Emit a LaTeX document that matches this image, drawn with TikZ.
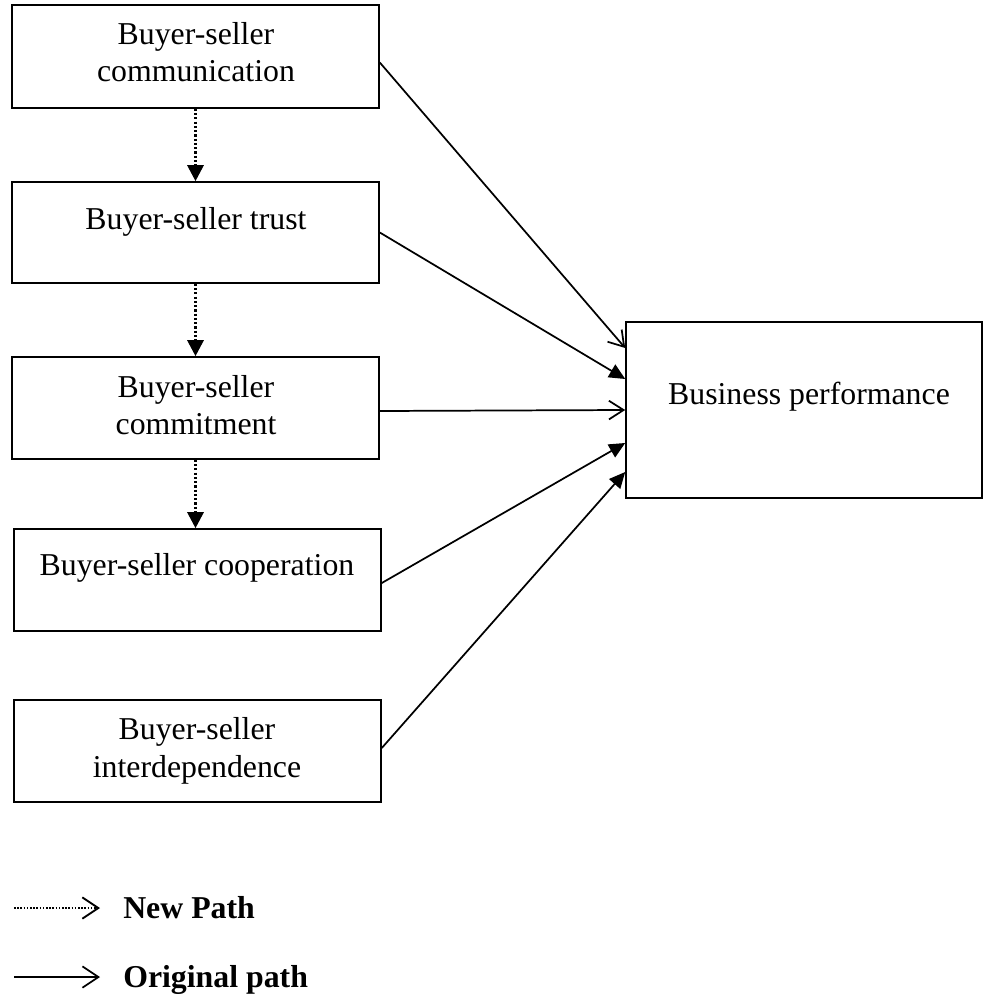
\documentclass[tikz,border=0pt]{standalone}
\usepackage{fontspec}
\setmainfont{Liberation Serif}
\usetikzlibrary{arrows.meta,fit,calc}
\begin{document}
\begin{tikzpicture}[x=0.75pt,y=-0.75pt,
  box/.style={draw, line width=1.2pt, inner sep=0pt},
  txt/.style={font=\fontsize{23.85}{27.75}\selectfont, inner sep=0pt, anchor=base},
  legtxt/.style={font=\fontsize{23.85}{27.75}\selectfont\bfseries, inner sep=0pt, anchor=base west},
  origline/.style={line width=1.3pt, -{Straight Barb[length=11pt,width=14pt]}},
  fillline/.style={line width=1.3pt, -{Triangle[length=12pt,width=11pt]}},
  newline/.style={line width=2.2pt, dash pattern=on 1.6pt off 1.6pt, -{Triangle[length=12pt,width=12pt]}},
]
\useasboundingbox (0,0) rectangle (983,995);

% boxes
\node[box, fit={(12,5) (379,108)}] (b1) {};
\node[box, fit={(12,182) (379,283)}] (b2) {};
\node[box, fit={(12,357) (379,459)}] (b3) {};
\node[box, fit={(14,529) (381,631)}] (b4) {};
\node[box, fit={(14,700) (381,802)}] (b5) {};
\node[box, fit={(626,322) (982,498)}] (bp) {};

% texts
\node[txt] (t1a) at (196,45) {Buyer-seller};
\node[txt] (t1b) at (196,82) {communication};
\node[txt] (t2) at (196,229) {Buyer-seller trust};
\node[txt] (t3a) at (196,397) {Buyer-seller};
\node[txt] (t3b) at (196,434) {commitment};
\node[txt] (t4) at (197,575) {Buyer-seller cooperation};
\node[txt] (t5a) at (197,739) {Buyer-seller};
\node[txt] (t5b) at (197,777) {interdependence};
\node[txt] (tbp) at (809,404) {Business performance};

% new paths
\draw[newline] (b1.south) -- (b2.north);
\draw[newline] (b2.south) -- (b3.north);
\draw[newline] (b3.south) -- (b4.north -| b3.south);

% original paths
\draw[origline] ($(b1.east)+(0,6)$) -- ($(bp.west)+(0,-62)$);
\draw[fillline] (b2.east) -- ($(bp.west)+(0,-31)$);
\draw[origline] ($(b3.east)+(0,3)$) -- ($(bp.west)+(0,0)$);
\draw[fillline] ($(b4.east)+(0,3)$) -- ($(bp.west)+(0,33)$);
\draw[fillline] ($(b5.east)+(0,-3)$) -- ($(bp.west)+(0,62)$);

% legend
\coordinate (l1s) at (14,908);
\coordinate (l1e) at (100,908);
\coordinate (l2s) at (14,977);
\coordinate (l2e) at (100,977);
\draw[line width=1.9pt, dash pattern=on 1.2pt off 1.2pt, -{Straight Barb[length=12pt,width=16pt,line width=1.4pt]}] (l1s) -- (l1e);
\draw[line width=1.3pt, -{Straight Barb[length=12pt,width=16pt]}] (l2s) -- (l2e);
\node[legtxt] (lnew) at (123,918) {New Path};
\node[legtxt] (lorig) at (123,987) {Original path};
\end{tikzpicture}
\end{document}
